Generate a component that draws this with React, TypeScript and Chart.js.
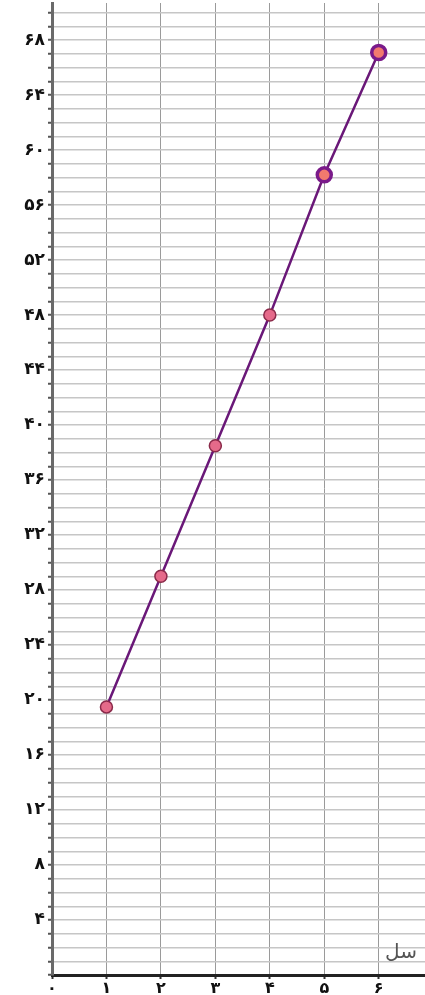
import React, { useEffect, useRef } from "react";
import { Chart, registerables } from "chart.js";

Chart.register(...registerables);

const years = [1, 2, 3, 4, 5, 6];
const values = [19.5, 29, 38.5, 48, 58.2, 67.1];
const yLabelStep = 4;
const axisTitle = "سل";

const toFa = (n: number) =>
  String(n).replace(/\d/g, (d) => "۰۱۲۳۴۵۶۷۸۹"[Number(d)]);

export default function App() {
  const ref = useRef<HTMLCanvasElement | null>(null);

  useEffect(() => {
    document.body.style.margin = "0";
    const canvas = ref.current!;
    const titlePlugin = {
      id: "axisTitle",
      afterDraw(chart: any) {
        const { ctx, chartArea } = chart;
        ctx.save();
        ctx.font = "20px 'DejaVu Sans'";
        ctx.fillStyle = "#555";
        ctx.textAlign = "left";
        ctx.textBaseline = "bottom";
        ctx.fillText(axisTitle, chartArea.right - 40, chartArea.bottom - 12);
        ctx.restore();
      },
    };
    const chart = new Chart(canvas, {
      type: "line",
      data: {
        datasets: [
          {
            data: years.map((x, i) => ({ x, y: values[i] })),
            borderColor: "#6a1878",
            borderWidth: 2.5,
            pointRadius: [6, 6, 6, 6, 7, 7],
            pointBackgroundColor: ["#e56a8a", "#e56a8a", "#e56a8a", "#e56a8a", "#f27a6e", "#f27a6e"],
            pointBorderColor: ["#8a2a4a", "#8a2a4a", "#8a2a4a", "#8a2a4a", "#7a1a8a", "#7a1a8a"],
            pointBorderWidth: [1.5, 1.5, 1.5, 1.5, 3.5, 3.5],
            tension: 0,
          },
        ],
      },
      options: {
        animation: false,
        responsive: false,
        layout: { autoPadding: false, padding: { top: 3, right: 0, left: 0, bottom: 0 } },
        plugins: { legend: { display: false }, tooltip: { enabled: false } },
        scales: {
          x: {
            type: "linear",
            min: 0,
            max: 6.85,
            afterFit: (s: any) => {
              s.height = 20;
              s.paddingRight = 0;
            },
            ticks: {
              stepSize: 1,
              includeBounds: false,
              padding: 0,
              color: "#111",
              font: { family: "'DejaVu Sans'", size: 16, weight: "bold" },
              callback: (v: any) => toFa(v),
            },
            grid: {
              color: "#9a9a9a",
              lineWidth: 1,
              tickLength: 4,
              tickColor: "#333",
              tickWidth: 2,
            },
            border: { color: "#222", width: 3 },
          },
          y: {
            type: "linear",
            min: 0,
            max: 70.7,
            afterFit: (s: any) => {
              s.width = 52;
              s.paddingTop = 0;
            },
            ticks: {
              stepSize: 1,
              includeBounds: false,
              autoSkip: false,
              padding: 3,
              color: "#111",
              font: { family: "'DejaVu Sans'", size: 17, weight: "bold" },
              callback: (v: any) =>
                v > 0 && v % yLabelStep === 0 ? toFa(v) : "",
            },
            grid: {
              color: "#c6c6c6",
              lineWidth: 1.5,
              tickLength: 4,
              tickColor: "#555",
              tickWidth: 2,
            },
            border: { color: "#6a6a6a", width: 3 },
          },
        },
      },
      plugins: [titlePlugin],
    } as any);
    return () => chart.destroy();
  }, []);

  return (
    <div style={{ position: "fixed", left: 0, top: 0, width: 425, height: 995, background: "#fff" }}>
      <canvas ref={ref} width={425} height={995} />
    </div>
  );
}
